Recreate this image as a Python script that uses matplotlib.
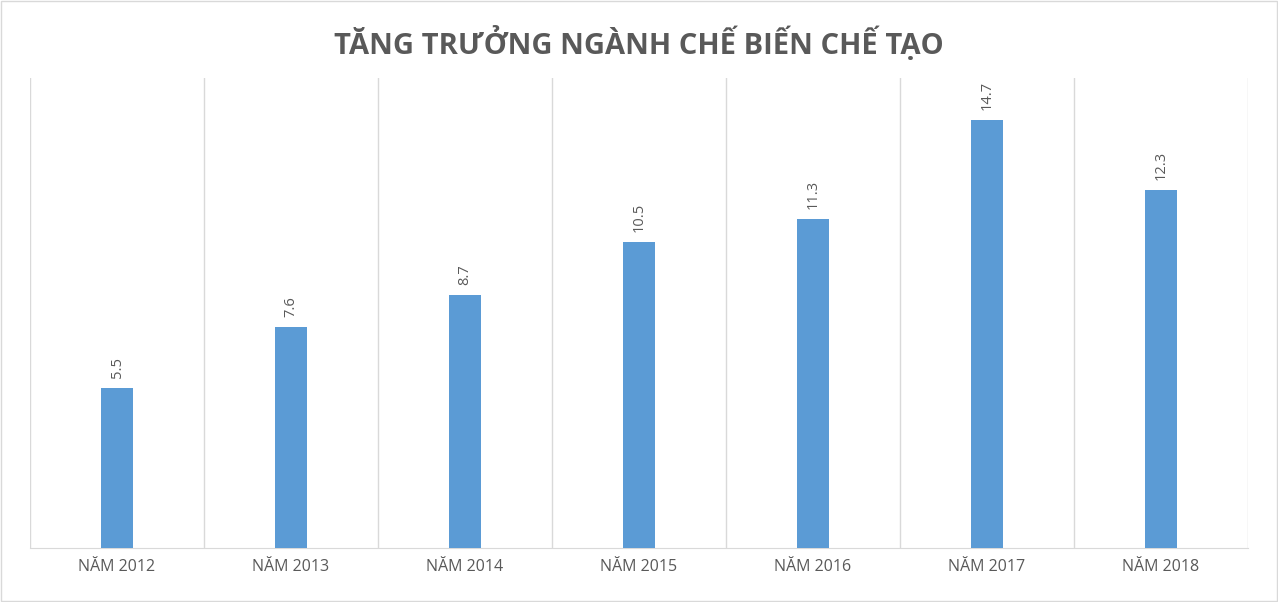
import matplotlib
matplotlib.use("Agg")
import matplotlib.pyplot as plt
from matplotlib.patches import Rectangle

categories = ["NĂM 2012", "NĂM 2013", "NĂM 2014", "NĂM 2015", "NĂM 2016", "NĂM 2017", "NĂM 2018"]
values = [5.5, 7.6, 8.7, 10.5, 11.3, 14.7, 12.3]
title = "TĂNG TRƯỞNG NGÀNH CHẾ BIẾN CHẾ TẠO"

plt.rcParams['font.family'] = ['Open Sans', 'DejaVu Sans']
fig = plt.figure(figsize=(12.78, 6.02), dpi=100)
fig.patches.append(Rectangle((0.001, 0.002), 0.998, 0.996, transform=fig.transFigure,
                             fill=False, edgecolor="#d9d9d9", linewidth=1))
ax = fig.add_axes([30/1278, 54/602, 1218/1278, 470/602])
x = range(len(categories))
ax.bar(x, values, width=0.185, color="#5b9bd5", zorder=3)
ax.set_xlim(-0.5, len(categories) - 0.5)
ax.set_ylim(0, 16.15)
for b in range(len(categories) + 1):
    ax.axvline(b - 0.5, color="#d9d9d9", linewidth=1, zorder=1)
for s in ["top", "left", "right"]:
    ax.spines[s].set_visible(False)
ax.spines["bottom"].set_color("#d9d9d9")
ax.set_yticks([])
ax.set_xticks(list(x))
ax.set_xticklabels(categories, color="#595959", fontsize=11.5)
ax.tick_params(axis="x", length=0, pad=8)
for xi, v in zip(x, values):
    ax.text(xi, v + 0.35, f"{v}", rotation=90, ha="center", va="bottom",
            color="#595959", fontsize=10.5)
fig.text(0.5, 0.928, title, ha="center", va="center", color="#595959",
         fontsize=21, fontweight="bold")
fig.savefig("out.png", dpi=100)
